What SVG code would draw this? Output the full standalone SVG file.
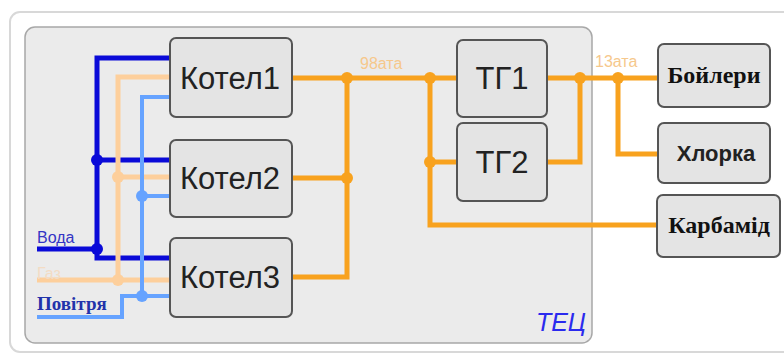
<svg xmlns="http://www.w3.org/2000/svg" width="784" height="356" viewBox="0 0 784 356">
  <style>
    .box { fill: #e4e4e4; stroke: #555; stroke-width: 2; }
    .lbl { font-family: "Liberation Sans", Arial, sans-serif; font-size: 31px; fill: #222; text-anchor: middle; }
    .lblb { font-family: "Liberation Serif", "Times New Roman", serif; font-weight: bold; font-size: 24px; fill: #111; text-anchor: middle; }
    .lbls { font-family: "Liberation Sans", Arial, sans-serif; font-weight: bold; font-size: 22px; fill: #222; text-anchor: middle; }
    .steam { fill: none; stroke: #f8a21e; stroke-width: 5; stroke-linejoin: miter; }
    .water { fill: none; stroke: #0a0ad8; stroke-width: 5; }
    .gas { fill: none; stroke: #fdcf9c; stroke-width: 5; }
    .air { fill: none; stroke: #66a3ff; stroke-width: 4; }
    .tiny { font-family: "Liberation Sans", Arial, sans-serif; font-size: 16px; }
  </style>

  <!-- outer frame and plant area -->
  <rect x="10" y="12" width="790" height="340" rx="10" fill="#ffffff" stroke="#d8d8d8" stroke-width="2"/>
  <rect x="25" y="27" width="567" height="316" rx="10" fill="#ebebeb" stroke="#a8a8a8" stroke-width="1.5"/>
  <text x="586" y="331" font-family="Liberation Sans, Arial, sans-serif" font-style="italic" font-size="25" fill="#2a2aee" text-anchor="end">ТЕЦ</text>

  <g id="connectors">
    <!-- water supply -->
    <polyline class="water" points="37,249 97,249"/>
    <polyline class="water" points="170,58 97,58 97,258 170,258"/>
    <polyline class="water" points="97,160 170,160"/>
    <!-- gas supply -->
    <polyline class="gas" points="37,280 170,280"/>
    <polyline class="gas" points="170,77 118,77 118,280"/>
    <polyline class="gas" points="118,177 170,177"/>
    <!-- air supply -->
    <polyline class="air" points="37,317 122,317 122,296 170,296"/>
    <polyline class="air" points="170,97 142,97 142,296"/>
    <polyline class="air" points="142,196 170,196"/>
    <!-- 98 ata steam header -->
    <polyline class="steam" points="292,78 457,78"/>
    <polyline class="steam" points="292,178 347,178"/>
    <polyline class="steam" points="292,277 347,277 347,78"/>
    <polyline class="steam" points="430,78 430,225 657,225"/>
    <polyline class="steam" points="430,162 457,162"/>
    <!-- 13 ata extraction -->
    <polyline class="steam" points="547,78 658,78"/>
    <polyline class="steam" points="547,162 580,162 580,78"/>
    <polyline class="steam" points="618,78 618,154 658,154"/>

    <!-- junction dots -->
    <g fill="#0a0ad8">
      <circle cx="97" cy="160" r="6"/>
      <circle cx="97" cy="249" r="6"/>
    </g>
    <g fill="#fdcf9c">
      <circle cx="118" cy="177" r="6"/>
      <circle cx="118" cy="280" r="6"/>
    </g>
    <g fill="#66a3ff">
      <circle cx="142" cy="196" r="6"/>
      <circle cx="142" cy="296" r="6"/>
    </g>
    <g fill="#f8a21e">
      <circle cx="347" cy="78" r="6"/>
      <circle cx="347" cy="178" r="6"/>
      <circle cx="430" cy="78" r="6"/>
      <circle cx="430" cy="162" r="6"/>
      <circle cx="580" cy="78" r="6"/>
      <circle cx="618" cy="78" r="6"/>
    </g>

    <!-- line labels -->
    <text class="tiny" x="360" y="69" fill="#f6c88c">98ата</text>
    <text class="tiny" x="595" y="67" fill="#f6c88c">13ата</text>
    <text class="tiny" x="37" y="243" fill="#3434c4" font-size="17">Вода</text>
    <text class="tiny" x="37" y="279" fill="#f3dcc4" font-size="15">Газ</text>
    <text x="37" y="310" font-family="Liberation Serif, Times New Roman, serif" font-weight="bold" font-size="19" fill="#2233aa">Повітря</text>
  </g>

  <g id="kotel1">
    <rect class="box" x="170" y="38" width="122" height="79" rx="6"/>
    <text class="lbl" x="230" y="89">Котел1</text>
  </g>
  <g id="kotel2">
    <rect class="box" x="170" y="140" width="122" height="77" rx="6"/>
    <text class="lbl" x="230" y="189">Котел2</text>
  </g>
  <g id="kotel3">
    <rect class="box" x="170" y="238" width="122" height="79" rx="6"/>
    <text class="lbl" x="230" y="288">Котел3</text>
  </g>
  <g id="tg1">
    <rect class="box" x="457" y="40" width="90" height="77" rx="6"/>
    <text class="lbl" x="502" y="89">ТГ1</text>
  </g>
  <g id="tg2">
    <rect class="box" x="457" y="123" width="90" height="78" rx="6"/>
    <text class="lbl" x="502" y="173">ТГ2</text>
  </g>
  <g id="boilers">
    <rect class="box" x="658" y="44" width="112" height="63" rx="6"/>
    <text class="lblb" x="714" y="83">Бойлери</text>
  </g>
  <g id="chlorine">
    <rect class="box" x="658" y="123" width="112" height="60" rx="6"/>
    <text class="lbls" x="716" y="161">Хлорка</text>
  </g>
  <g id="urea">
    <rect class="box" x="657" y="195" width="123" height="62" rx="6"/>
    <text class="lblb" x="719" y="233">Карбамід</text>
  </g>
</svg>
